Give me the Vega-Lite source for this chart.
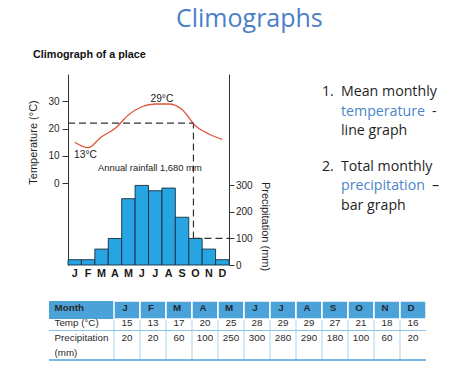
{
  "$schema": "https://vega.github.io/schema/vega-lite/v6.json",
  "padding": {"left": 26, "top": 6, "right": 0, "bottom": 0},
  "background": "white",
  "title": {"text": "Climographs", "font": "Open Sans", "fontSize": 25, "fontWeight": "normal", "color": "#4a7fc8", "anchor": "start", "frame": "group", "dx": 127, "offset": -3, "baseline": "alphabetic"},
  "config": {
    "view": {"stroke": null},
    "axis": {"grid": false, "domainColor": "#333333", "tickColor": "#333333", "labelColor": "#1f1f1f", "titleColor": "#1f1f1f"}
  },
  "bounds": "flush",
  "spacing": 36,
  "datasets": {
    "months": [
      {"m": "Jan", "letter": "J", "temp": 15, "precip": 20},
      {"m": "Feb", "letter": "F", "temp": 13, "precip": 20},
      {"m": "Mar", "letter": "M", "temp": 17, "precip": 60},
      {"m": "Apr", "letter": "A", "temp": 20, "precip": 100},
      {"m": "May", "letter": "M", "temp": 25, "precip": 250},
      {"m": "Jun", "letter": "J", "temp": 28, "precip": 300},
      {"m": "Jul", "letter": "J", "temp": 29, "precip": 280},
      {"m": "Aug", "letter": "A", "temp": 29, "precip": 290},
      {"m": "Sep", "letter": "S", "temp": 27, "precip": 180},
      {"m": "Oct", "letter": "O", "temp": 21, "precip": 100},
      {"m": "Nov", "letter": "N", "temp": 18, "precip": 60},
      {"m": "Dec", "letter": "D", "temp": 16, "precip": 20}
    ]
  },
  "vconcat": [
    {
      "width": 180,
      "height": 191,
      "title": {"text": "Climograph of a place", "anchor": "start", "frame": "group", "dx": -16, "offset": 5.5, "baseline": "alphabetic", "font": "Liberation Sans, sans-serif", "fontSize": 10.8, "fontWeight": "bold", "color": "#111111"},
      "resolve": {"scale": {"x": "independent", "y": "independent"}, "axis": {"x": "independent", "y": "independent"}},
      "layer": [
        {
          "data": {"name": "months"},
          "layer": [
            {
              "mark": {"type": "bar", "fill": "#27a4e2", "stroke": "#1c2c3c", "strokeWidth": 0.9},
              "encoding": {
                "x": {"field": "m", "type": "ordinal", "sort": null,
                  "scale": {"domain": ["Jan","Feb","Mar","Apr","May","Jun","Jul","Aug","Sep","Oct","Nov","Dec"], "range": [19, 180], "paddingInner": 0, "paddingOuter": 0},
                  "axis": {"title": null, "labelExpr": "substring(datum.label,0,1)", "domain": false, "ticks": false, "labelAngle": 0, "labelFont": "Liberation Sans, sans-serif", "labelFontSize": 10.8, "labelFontWeight": "bold", "labelColor": "#1a1a1a", "labelPadding": 2.5}},
                "y": {"field": "precip", "type": "quantitative",
                  "scale": {"domain": [0, 720], "nice": false, "zero": true},
                  "axis": {"orient": "right", "values": [0, 100, 200, 300], "title": "Precipitation (mm)", "titleAngle": 90, "titleX": 35, "titleY": 152, "titleBaseline": "middle", "titleAlign": "center", "titleFont": "Liberation Sans, sans-serif", "titleFontSize": 11, "titleFontWeight": "normal", "labelFont": "Liberation Sans, sans-serif", "labelFontSize": 10, "tickSize": 5, "labelPadding": 1.5, "zindex": 1}}
              }
            },
            {
              "data": {"values": [{"m": "Oct", "p1": 100, "p2": 535}]},
              "mark": {"type": "rule", "strokeDash": [7, 4], "color": "#333333", "strokeWidth": 1.2},
              "encoding": {
                "x": {"field": "m", "type": "ordinal", "bandPosition": 0.35},
                "y": {"field": "p1", "type": "quantitative"},
                "y2": {"field": "p2"}
              }
            },
            {
              "data": {"values": [{"from": "Oct", "to": "Dec", "precip": 100}]},
              "mark": {"type": "rule", "strokeDash": [7, 4], "color": "#333333", "strokeWidth": 1.2},
              "encoding": {
                "x": {"field": "from", "type": "ordinal", "bandPosition": 0.35},
                "x2": {"field": "to", "bandPosition": 1},
                "y": {"field": "precip", "type": "quantitative"}
              }
            },
            {
              "data": {"values": [{"m": "Jul", "precip": 365, "label": "Annual rainfall 1,680 mm"}]},
              "mark": {"type": "text", "font": "Liberation Sans, sans-serif", "fontSize": 9.4, "color": "#1a1a1a", "align": "center", "baseline": "middle"},
              "encoding": {
                "x": {"field": "m", "type": "ordinal", "bandPosition": 0.1},
                "y": {"field": "precip", "type": "quantitative"},
                "text": {"field": "label"}
              }
            }
          ]
        },
        {
          "data": {"name": "months"},
          "layer": [
            {
              "mark": {"type": "line", "interpolate": "monotone", "color": "#e2533c", "strokeWidth": 1.3},
              "encoding": {
                "x": {"field": "m", "type": "ordinal", "sort": null,
                  "scale": {"domain": ["Jan","Feb","Mar","Apr","May","Jun","Jul","Aug","Sep","Oct","Nov","Dec"], "range": [19, 180], "paddingInner": 0, "paddingOuter": 0},
                  "axis": null},
                "y": {"field": "temp", "type": "quantitative",
                  "scale": {"domain": [-30, 40], "nice": false, "zero": false},
                  "axis": {"orient": "left", "offset": -19, "values": [0, 10, 20, 30], "title": "Temperature (°C)", "titleX": -35, "titleY": 68, "titleBaseline": "middle", "titleAlign": "center", "titleFont": "Liberation Sans, sans-serif", "titleFontSize": 11, "titleFontWeight": "normal", "labelFont": "Liberation Sans, sans-serif", "labelFontSize": 10, "tickSize": 6, "labelPadding": 3}}
              }
            },
            {
              "data": {"values": [{"from": "Jan", "to": "Oct", "temp": 22}]},
              "mark": {"type": "rule", "strokeDash": [7, 4], "color": "#333333", "strokeWidth": 1.2},
              "encoding": {
                "x": {"field": "from", "type": "ordinal", "bandPosition": 0},
                "x2": {"field": "to", "bandPosition": 0.35},
                "y": {"field": "temp", "type": "quantitative"}
              }
            },
            {
              "data": {"values": [{"m": "Aug", "temp": 29, "label": "29°C"}]},
              "mark": {"type": "text", "font": "Liberation Sans, sans-serif", "fontSize": 10.2, "color": "#1a1a1a", "align": "center", "baseline": "middle", "dy": -5},
              "encoding": {
                "x": {"field": "m", "type": "ordinal", "bandPosition": 0},
                "y": {"field": "temp", "type": "quantitative"},
                "text": {"field": "label"}
              }
            },
            {
              "data": {"values": [{"m": "Feb", "temp": 13, "label": "13°C"}]},
              "mark": {"type": "text", "font": "Liberation Sans, sans-serif", "fontSize": 10.2, "color": "#1a1a1a", "align": "center", "baseline": "middle", "dy": 7},
              "encoding": {
                "x": {"field": "m", "type": "ordinal", "bandPosition": 0.3},
                "y": {"field": "temp", "type": "quantitative"},
                "text": {"field": "label"}
              }
            }
          ]
        },
        {
          "layer": [
            {
              "data": {"values": [
                {"item": 1, "line": 0, "col": "num", "text": "1.", "kind": "plain"},
                {"item": 1, "line": 0, "col": "text", "text": "Mean monthly", "kind": "plain"},
                {"item": 1, "line": 1, "col": "text", "text": "temperature", "kind": "key"},
                {"item": 1, "line": 2, "col": "text", "text": "line graph", "kind": "plain"},
                {"item": 2, "line": 0, "col": "num", "text": "2.", "kind": "plain"},
                {"item": 2, "line": 0, "col": "text", "text": "Total monthly", "kind": "plain"},
                {"item": 2, "line": 1, "col": "text", "text": "precipitation", "kind": "key"},
                {"item": 2, "line": 2, "col": "text", "text": "bar graph", "kind": "plain"}
              ]},
              "mark": {"type": "text", "align": "left", "baseline": "alphabetic", "font": "Open Sans", "fontSize": 14.2},
              "encoding": {
                "x": {"field": "col", "type": "ordinal", "scale": {"type": "point", "domain": ["num", "text"], "range": [273, 292], "padding": 0}, "axis": null},
                "y": {"field": "item", "type": "ordinal", "scale": {"type": "band", "domain": [1, 2], "range": [22, 171], "paddingInner": 0, "paddingOuter": 0}, "axis": null},
                "yOffset": {"field": "line", "type": "ordinal", "scale": {"type": "point", "domain": [0, 1, 2], "range": [0, 39.2], "padding": 0}},
                "text": {"field": "text"},
                "color": {"field": "kind", "type": "nominal", "scale": {"domain": ["plain", "key"], "range": ["#1f1f1f", "#4a86c8"]}, "legend": null}
              }
            },
            {
              "data": {"values": [
                {"item": 1, "line": 1, "col": "text", "text": "-"},
                {"item": 2, "line": 1, "col": "text", "text": "–"}
              ]},
              "mark": {"type": "text", "align": "left", "baseline": "alphabetic", "font": "Open Sans", "fontSize": 14.2, "dx": 91, "color": "#1f1f1f"},
              "encoding": {
                "x": {"field": "col", "type": "ordinal", "scale": {"type": "point", "domain": ["num", "text"], "range": [273, 292], "padding": 0}, "axis": null},
                "y": {"field": "item", "type": "ordinal", "scale": {"type": "band", "domain": [1, 2], "range": [22, 171], "paddingInner": 0, "paddingOuter": 0}, "axis": null},
                "yOffset": {"field": "line", "type": "ordinal", "scale": {"type": "point", "domain": [0, 1, 2], "range": [0, 39.2], "padding": 0}},
                "text": {"field": "text"}
              }
            }
          ]
        }
      ]
    },
    {
      "width": 377,
      "height": 59,
      "layer": [
        {
          "data": {"name": "months"},
          "mark": {"type": "rule", "color": "#a9d3ee", "strokeWidth": 1},
          "encoding": {
            "x": {"field": "m", "type": "ordinal", "sort": null, "bandPosition": 0,
              "scale": {"domain": ["Jan","Feb","Mar","Apr","May","Jun","Jul","Aug","Sep","Oct","Nov","Dec"], "range": [65, 377], "paddingInner": 0, "paddingOuter": 0},
              "axis": null}
          }
        },
        {
          "data": {"values": [{"row": "Month"}]},
          "mark": {"type": "rect", "color": "#4aa2d9"},
          "encoding": {
            "y": {"field": "row", "type": "ordinal",
              "scale": {"domain": ["Month", "Temp (°C)", "Precipitation", "(mm)"], "paddingInner": 0, "paddingOuter": 0},
              "axis": {"orient": "left", "title": null, "domain": false, "ticks": false, "tickSize": 0, "labelAlign": "left", "labelPadding": -5, "labelFont": "Liberation Sans, sans-serif", "labelFontSize": 9.8, "labelColor": "#2a2a2a", "labelFontWeight": {"condition": {"test": "datum.value === 'Month'", "value": "bold"}, "value": "normal"}, "zindex": 1}}
          }
        },
        {
          "data": {"name": "months"},
          "mark": {"type": "rect", "fill": "#4aa2d9", "stroke": "white", "strokeWidth": 1.5},
          "encoding": {
            "x": {"field": "m", "type": "ordinal"},
            "y": {"datum": "Month", "type": "ordinal"}
          }
        },
        {
          "data": {"values": [{"row": "Precipitation"}]},
          "mark": {"type": "rule", "color": "#8cc5ea", "strokeWidth": 1},
          "encoding": {"y": {"field": "row", "type": "ordinal", "bandPosition": 0}}
        },
        {
          "data": {"values": [{"row": "(mm)"}]},
          "mark": {"type": "rule", "color": "#4aa2d9", "strokeWidth": 1.3},
          "encoding": {"y": {"field": "row", "type": "ordinal", "bandPosition": 1}}
        },
        {
          "data": {"name": "months"},
          "mark": {"type": "text", "font": "Liberation Sans, sans-serif", "fontSize": 9.8, "fontWeight": "bold", "color": "#1e2a36", "dx": -2},
          "encoding": {
            "x": {"field": "m", "type": "ordinal"},
            "y": {"datum": "Month", "type": "ordinal"},
            "text": {"field": "letter"}
          }
        },
        {
          "data": {"name": "months"},
          "mark": {"type": "text", "font": "Liberation Sans, sans-serif", "fontSize": 9.8, "color": "#2a2a2a"},
          "encoding": {
            "x": {"field": "m", "type": "ordinal"},
            "y": {"datum": "Temp (°C)", "type": "ordinal"},
            "text": {"field": "temp"}
          }
        },
        {
          "data": {"name": "months"},
          "mark": {"type": "text", "font": "Liberation Sans, sans-serif", "fontSize": 9.8, "color": "#2a2a2a"},
          "encoding": {
            "x": {"field": "m", "type": "ordinal"},
            "y": {"datum": "Precipitation", "type": "ordinal"},
            "text": {"field": "precip"}
          }
        }
      ]
    }
  ]
}
